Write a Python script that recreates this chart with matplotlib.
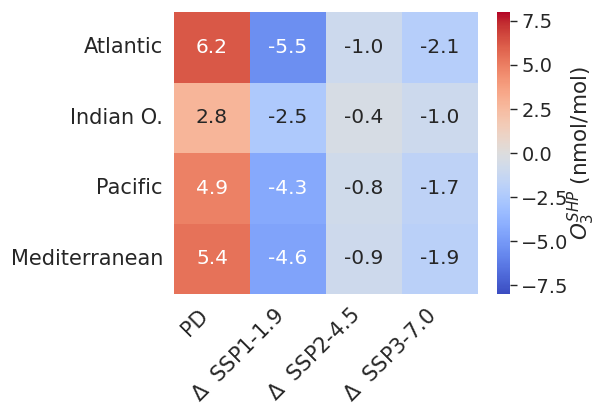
import matplotlib
matplotlib.use("Agg")
import matplotlib.pyplot as plt
import numpy as np
import pandas as pd
import seaborn as sns

regions = ["Atlantic", "Indian O.", "Pacific", "Mediterranean"]
scenarios = ["PD", r"$\Delta$  SSP1-1.9", r"$\Delta$  SSP2-4.5", r"$\Delta$  SSP3-7.0"]
pd_vals = [6.2, 2.8, 4.9, 5.4]
ssp119 = [-5.5, -2.5, -4.3, -4.6]
ssp245 = [-1.0, -0.4, -0.8, -0.9]
ssp370 = [-2.1, -1.0, -1.7, -1.9]
cbar_ticks = [-7.5, -5.0, -2.5, 0.0, 2.5, 5.0, 7.5]

sns.set_style("white")
plt.rcParams["text.color"] = ".15"
plt.rcParams["xtick.color"] = ".15"
plt.rcParams["ytick.color"] = ".15"

df = pd.DataFrame(np.array([pd_vals, ssp119, ssp245, ssp370]).T,
                  index=regions, columns=scenarios)

fig = plt.figure(figsize=(5.96, 4.04), dpi=100)
ax = fig.add_axes([0.292, 0.272, 0.510, 0.698])
cax = fig.add_axes([0.834, 0.272, 0.022, 0.698])

sns.heatmap(df, ax=ax, cbar_ax=cax, cmap="coolwarm", vmin=-8, vmax=8,
            annot=True, fmt=".1f", annot_kws={"fontsize": 14.5},
            cbar_kws={"ticks": cbar_ticks})

ax.tick_params(axis="y", length=0, labelsize=15, pad=8)
ax.tick_params(axis="x", length=0, labelsize=15, pad=8)
ax.set_yticklabels(regions, rotation=0)
ax.set_xticklabels(scenarios, rotation=45, ha="right")
cax.tick_params(labelsize=14, length=5, width=1, color=".15", pad=3)
cax.set_ylabel(r"$O_3^{SHP}$ (nmol/mol)", fontsize=15.5, labelpad=-2)

fig.savefig("out.png", dpi=100)
